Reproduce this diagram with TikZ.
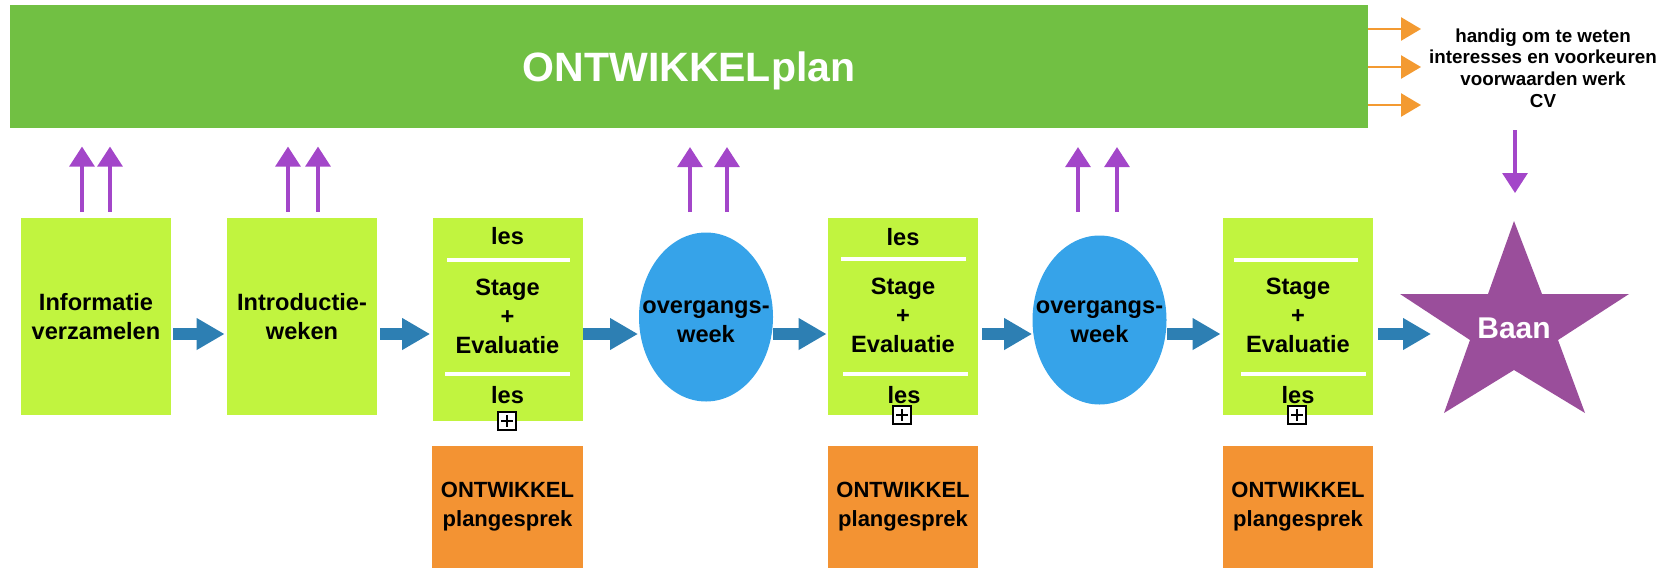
\documentclass[tikz,border=0pt]{standalone}
\usepackage{fontspec}
\setmainfont{Liberation Sans}
\usetikzlibrary{arrows.meta,shapes.geometric,calc}
\definecolor{barGreen}{HTML}{71C043}
\definecolor{limeC}{HTML}{C1F43F}
\definecolor{orangeC}{HTML}{F39333}
\definecolor{ellBlue}{HTML}{36A3E9}
\definecolor{arrowBlue}{HTML}{2D7FB3}
\definecolor{arrowPurple}{HTML}{A346C9}
\definecolor{starPurple}{HTML}{9A4E9B}
\definecolor{arrowOrange}{HTML}{F39A31}
\begin{document}
\begin{tikzpicture}[x=0.5pt,y=-0.5pt,
  limebox/.style={fill=limeC, draw=none, minimum width=75pt, inner sep=0pt, align=center,
    font=\fontsize{11.8}{14.5}\selectfont\bfseries},
  orangebox/.style={fill=orangeC, draw=none, minimum width=75pt, minimum height=61pt, inner sep=0pt, align=center,
    font=\fontsize{11}{14.5}\selectfont\bfseries},
  boxtext/.style={inner sep=0pt, align=center, font=\fontsize{11.8}{14.5}\selectfont\bfseries},
  ellnode/.style={ellipse, fill=ellBlue, draw=none, minimum width=67pt, minimum height=84.5pt, inner sep=0pt},
  whiteline/.style={draw=white, line width=1.6pt},
  bluearrow/.style={draw=arrowBlue, line width=6pt, -{Triangle[length=14pt,width=15pt]}},
  uparrow/.style={draw=arrowPurple, line width=1.6pt, -{Triangle[length=10pt,width=12.5pt]}},
  orangearrow/.style={draw=arrowOrange, line width=1.3pt, -{Triangle[length=10pt,width=11.5pt]}},
  plusbox/.style={draw=black, fill=white, line width=0.6pt, minimum size=9pt, inner sep=0pt,
    path picture={\draw[line width=0.6pt] ($(path picture bounding box.north)+(0,-1.5pt)$) -- ($(path picture bounding box.south)+(0,1.5pt)$);
                  \draw[line width=0.6pt] ($(path picture bounding box.west)+(1.5pt,0)$) -- ($(path picture bounding box.east)+(-1.5pt,0)$);}}
]
\useasboundingbox (0,0) rectangle (1675,568);

% top bar
\node[fill=barGreen, minimum width=679pt, minimum height=61.5pt, inner sep=0pt, text=white, text depth=0pt,
  font=\fontsize{20.5}{24}\selectfont\bfseries] (bar) at (689,66.5) {ONTWIKKELplan};

% orange arrows and side text
\draw[orangearrow] (bar.east |- 0,29) -- (1421,29);
\draw[orangearrow] (bar.east |- 0,67) -- (1421,67);
\draw[orangearrow] (bar.east |- 0,105) -- (1421,105);
\node[inner sep=0pt, align=center, font=\fontsize{9.4}{10.9}\selectfont\bfseries] (info) at (1543,68)
  {handig om te weten\\interesses en voorkeuren\\voorwaarden werk\\CV};

% boxes
\node[limebox, minimum height=98.5pt] (box1) at (96,316.5) {Informatie\\verzamelen};
\node[limebox, minimum height=98.5pt] (box2) at (302,316.5) {Introductie-\\weken};
\node[limebox, minimum height=101.5pt] (box3) at (507.5,319.5) {};
\node[limebox, minimum height=98.5pt] (box4) at (903,316.5) {};
\node[limebox, minimum height=98.5pt] (box5) at (1298,316.5) {};

% box3 contents
\node[boxtext] (b3les1) at (507.5,236) {les};
\draw[whiteline] (447,260) -- (570,260);
\node[boxtext] (b3mid) at (507.5,316) {Stage\\+\\Evaluatie};
\draw[whiteline] (445,374) -- (570,374);
\node[boxtext] (b3les2) at (507.5,395) {les};
\node[plusbox] (plus3) at (507,421) {};

% box4 contents
\node[boxtext] (b4les1) at (903,237) {les};
\draw[whiteline] (841,259) -- (966,259);
\node[boxtext] (b4mid) at (903,315) {Stage\\+\\Evaluatie};
\draw[whiteline] (843,374) -- (968,374);
\node[boxtext] (b4les2) at (904,395) {les};
\node[plusbox] (plus4) at (902,415) {};

% box5 contents
\draw[whiteline] (1234,260) -- (1358,260);
\node[boxtext] (b5mid) at (1298,315) {Stage\\+\\Evaluatie};
\draw[whiteline] (1241,374) -- (1366,374);
\node[boxtext] (b5les2) at (1298,395) {les};
\node[plusbox] (plus5) at (1297,415) {};

% ellipses
\node[ellnode] (e1) at (706,317) {};
\node[boxtext] (e1t) at (706,322) {overgangs-\\week};
\node[ellnode] (e2) at (1099.5,320) {};
\node[boxtext] (e2t) at (1099.5,322) {overgangs-\\week};

% orange boxes
\node[orangebox, minimum width=75.5pt] (o3) at (507.5,507) {ONTWIKKEL\\plangesprek};
\node[orangebox] (o4) at (903,507) {ONTWIKKEL\\plangesprek};
\node[orangebox] (o5) at (1298,507) {ONTWIKKEL\\plangesprek};

% star
\fill[starPurple] (1514,221) -- (1542,294) -- (1629,294) -- (1558,340) -- (1585,413) -- (1514,370)
  -- (1444,413) -- (1470,340) -- (1400,294) -- (1488,294) -- cycle;
\node[inner sep=0pt, text=white, font=\fontsize{15}{18}\selectfont\bfseries] (baan) at (1514,328) {Baan};
\coordinate (starL) at (1431,334);

% blue flow arrows
\coordinate (ay) at (0,334);
\coordinate (e1L) at (638,334);
\draw[bluearrow, shorten <=1pt, shorten >=1pt] (box1.east |- ay) -- (box2.west |- ay);
\draw[bluearrow, shorten <=1.5pt, shorten >=1pt] (box2.east |- ay) -- (box3.west |- ay);
\draw[bluearrow] (box3.east |- ay) -- (e1L);
\draw[bluearrow, shorten >=0.5pt] (e1.east |- ay) -- (box4.west |- ay);
\draw[bluearrow, shorten <=2pt] (box4.east |- ay) -- (e2.west |- ay);
\draw[bluearrow, shorten >=1pt] (e2.east |- ay) -- (box5.west |- ay);
\draw[bluearrow, shorten <=2.5pt] (box5.east |- ay) -- (starL);

% purple up arrows
\draw[uparrow] ([xshift=-7pt,yshift=3pt]box1.north) -- ++(0,-65);
\draw[uparrow] ([xshift=7pt,yshift=3pt]box1.north) -- ++(0,-65);
\draw[uparrow] ([xshift=-7pt,yshift=3pt]box2.north) -- ++(0,-65);
\draw[uparrow] ([xshift=8pt,yshift=3pt]box2.north) -- ++(0,-65);
\draw[uparrow] ([xshift=-8pt,yshift=10pt]e1.north) -- ++(0,-65);
\draw[uparrow] ([xshift=10.5pt,yshift=10pt]e1.north) -- ++(0,-65);
\draw[uparrow] ([xshift=-10.75pt,yshift=11.5pt]e2.north) -- ++(0,-65);
\draw[uparrow] ([xshift=8.75pt,yshift=11.5pt]e2.north) -- ++(0,-65);

% purple down arrow
\coordinate (dA) at (1515,130);
\coordinate (dB) at (1515,193);
\draw[uparrow] (dA) -- (dB);
\end{tikzpicture}
\end{document}
